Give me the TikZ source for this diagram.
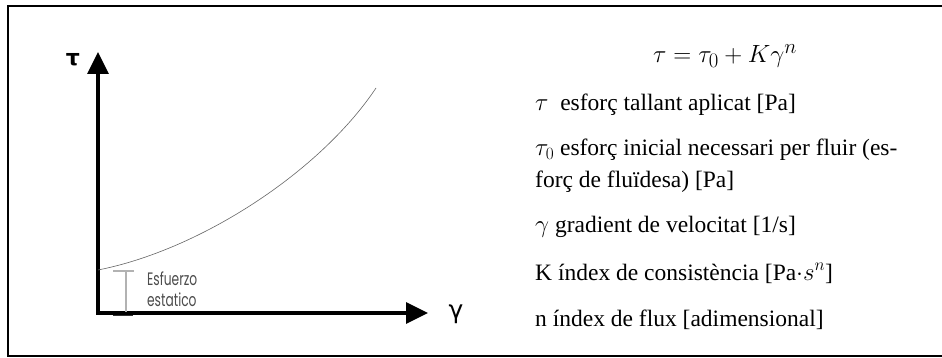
\documentclass[tikz,border=0pt]{standalone}
\usepackage{fontspec}
\setmainfont{Liberation Serif}
\newfontfamily\gothfont{Poppins}
\newfontfamily\grkfont{DejaVu Sans}
\usetikzlibrary{arrows.meta}
\newcommand\bigmth[1]{{\fontsize{26.5}{28}\selectfont$#1$}}
\begin{document}
\begin{tikzpicture}[x=1pt,y=-1pt,
  frameline/.style={line width=2.5pt,black},
  axisline/.style={line width=3.5pt,black,-{Triangle[length=22pt,width=21pt]}},
  curveline/.style={line width=0.6pt,black!60},
  graylbl/.style={inner sep=0pt,anchor=base west,text=black!70,font=\gothfont\fontsize{18}{18}\selectfont,xscale=0.68},
  deftext/.style={inner sep=0pt,anchor=base west,font=\fontsize{23.5}{28}\selectfont}]
\useasboundingbox (0,0) rectangle (942,358);
% frame
\coordinate (fTR) at (942,6);
\coordinate (fTL) at (8,6);
\coordinate (fBL) at (8,356);
\coordinate (fBR) at (942,356);
\draw[frameline] (fTR) -- (fTL) -- (fBL) -- (fBR);
% axes
\coordinate (O) at (98,313);
\coordinate (ytip) at (98,52);
\coordinate (xtip) at (428,313);
\draw[axisline] ([yshift=1.75pt]O) -- (ytip);
\draw[axisline] ([xshift=-1.75pt]O) -- (xtip);
\node[inner sep=0pt,font=\grkfont\bfseries\fontsize{22}{22}\selectfont] (taulbl) at (73,60) {τ};
\node[inner sep=0pt,font=\grkfont\fontsize{25}{25}\selectfont] (gamlbl) at (456,314) {γ};
% curve
\coordinate (c0) at (98,270);
\coordinate (c1) at (376,88);
\draw[curveline] (c0) .. controls (200,250) and (320,172) .. (c1);
% static stress bracket
\coordinate (b0) at (126,271);
\coordinate (b1) at (126,312);
\coordinate (bl) at (113,271);
\coordinate (br) at (134,271);
\draw[line width=1.2pt,black!30] (b0) -- (b1);
\draw[line width=1.2pt,black!30] (bl) -- (br);
\coordinate (dl) at (113,315.5);
\coordinate (dr) at (133,315.5);
\draw[line width=1.5pt,black!80] (dl) -- (dr);
\node[graylbl] (esf1) at (147,285) {Esfuerzo};
\node[graylbl] (esf2) at (147,306) {estatico};
% equation and definitions
\node[inner sep=0pt,anchor=base west,font=\fontsize{31}{31}\selectfont] (eq) at (653,63) {$\tau = \tau_0 + K\gamma^n$};
\node[deftext] (d1) at (535,111) {\bigmth{\tau}\ \ esforç tallant aplicat [Pa]};
\node[deftext] (d2) at (535,156) {\bigmth{\tau_0} esforç inicial necessari per fluir (es-};
\node[deftext] (d2b) at (535,188) {forç de fluïdesa) [Pa]};
\node[deftext] (d3) at (535,233) {\bigmth{\gamma} gradient de velocitat [1/s]};
\node[deftext] (d4) at (535,280) {K índex de consistència [Pa$\cdot$\bigmth{s^n}]};
\node[deftext] (d5) at (535,326) {n índex de flux [adimensional]};
\end{tikzpicture}
\end{document}
